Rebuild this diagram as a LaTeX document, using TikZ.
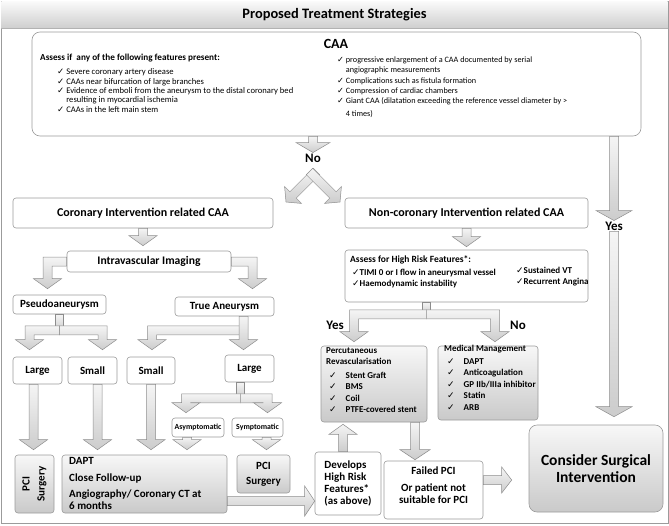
\documentclass[tikz,border=0pt]{standalone}
\usepackage{fontspec}
\setmainfont{Carlito}
\newfontfamily\checkfont{DejaVu Sans}
\usetikzlibrary{calc}
\definecolor{boxline}{RGB}{155,155,155}
\definecolor{arrowline}{RGB}{140,140,140}
\newcommand{\fsz}[2]{\fontsize{#1}{#2}\selectfont}
\newcommand{\ck}{{\checkfont\char"2713}}
\newcommand{\BAw}{4.5pt}   % half shaft width
\newcommand{\BAhw}{14pt}   % half head width
\newcommand{\BAhl}{10pt}   % head length
\tikzset{
  box/.style={draw=boxline, line width=0.6pt, rounded corners=3pt, fill=white, inner sep=1pt,
    align=center, font=\bfseries\fsz{11}{13}},
  dbox/.style={box, top color=gray!6, bottom color=gray!42},
  blockarrow/.style={draw=arrowline, line width=0.5pt, top color=gray!8, bottom color=gray!40},
  lbl/.style={inner sep=1pt, font=\bfseries\fsz{13}{15}},
  lst/.style={anchor=north west, inner sep=0pt, align=left, font=\fsz{8.6}{9.4}}
}
% straight block arrow: [half head width]{tail}{tip}
\newcommand{\BArrow}[3][\BAhw]{%
  \coordinate (ba-s) at #2;
  \coordinate (ba-e) at #3;
  \coordinate (ba-h) at ($(ba-e)!\BAhl!(ba-s)$);
  \path[blockarrow] ($(ba-s)!\BAw!90:(ba-e)$) -- ($(ba-h)!\BAw!90:(ba-e)$)
    -- ($(ba-h)!#1!90:(ba-e)$) -- (ba-e) -- ($(ba-h)!#1!-90:(ba-e)$)
    -- ($(ba-h)!\BAw!-90:(ba-e)$) -- ($(ba-s)!\BAw!-90:(ba-e)$) -- cycle;}
% elbow block arrow: sideways from tail, then down to tip
\newcommand{\EArrow}[3][\BAhw]{%
  \coordinate (ea-s) at #2;
  \coordinate (ea-e) at #3;
  \path[blockarrow] let \p1=(ea-s), \p2=(ea-e), \n1={ifthenelse(\x2>\x1,1,-1)} in
    (\x1,{\y1+\BAw}) -- ({\x2+\n1*\BAw},{\y1+\BAw}) -- ({\x2+\n1*\BAw},{\y2+\BAhl})
    -- ({\x2+\n1*#1},{\y2+\BAhl}) -- (\x2,\y2) -- ({\x2-\n1*#1},{\y2+\BAhl})
    -- ({\x2-\n1*\BAw},{\y2+\BAhl}) -- ({\x2-\n1*\BAw},{\y1-\BAw}) -- (\x1,{\y1-\BAw}) -- cycle;}

\begin{document}
\begin{tikzpicture}[x=1pt, y=-1pt]
  \useasboundingbox (0,0) rectangle (669,525);
  % frame and heading
  \draw[boxline, line width=0.8pt] (1,1) rectangle (668,523);
  \shade[top color=gray!4, bottom color=gray!38] (1.4,1.4) rectangle (667.6,28);
  \draw[gray!60, line width=0.8pt] (1,28) -- (668,28);
  \node[font=\bfseries\fsz{14.4}{16}] (title) at (334.5,15) {Proposed Treatment Strategies};

  % CAA features
  \node[box, minimum width=609pt, minimum height=104pt, rounded corners=8pt] (caa) at (336.5,84) {};
  \node[font=\bfseries\fsz{14}{16}] (caaT) at (336,44) {CAA};
  \node[anchor=west, inner sep=0pt, font=\bfseries\fsz{9.2}{10}] (caaQ) at (40,58.5) {Assess if\ \ any of the following features present:};
  \node[lst] (caaL) at (57,68.5) {\ck\ Severe coronary artery disease\\\ck\ CAAs near bifurcation of large branches\\
    \ck\ Evidence of emboli from the aneurysm to the distal coronary bed\\\hphantom{\ck\ }resulting in myocardial ischemia\\
    \ck\ CAAs in the left main stem};
  \node[lst, font=\fsz{8.2}{10.4}] (caaR) at (337,56.5) {\ck\ progressive enlargement of a CAA documented by serial\\\hphantom{\ck\ }angiographic measurements\\
    \ck\ Complications such as fistula formation\\\ck\ Compression of cardiac chambers\\
    \ck\ Giant CAA (dilatation exceeding the reference vessel diameter by >\\[2pt]\hphantom{\ck\ }4 times)};

  \node[lbl] (noL) at (313,158) {No};
  \node[lbl] (yesL) at (614,226) {Yes};
  \coordinate (apex) at (313,175);
  \coordinate (chevL) at (286,202);
  \coordinate (chevR) at (340,202);

  % second level
  \node[box, minimum width=260pt, minimum height=30pt, font=\bfseries\fsz{12}{14}] (coronary) at (143,213) {Coronary Intervention related CAA};
  \node[box, minimum width=243pt, minimum height=30pt, font=\bfseries\fsz{12}{14}] (noncor) at (466.5,213) {Non-coronary Intervention related CAA};

  % coronary intervention side
  \node[box, minimum width=164pt, minimum height=21pt, font=\bfseries\fsz{11.6}{13}] (intra) at (149,261.5) {Intravascular Imaging};
  \node[box, minimum width=93pt, minimum height=19pt] (pseudo) at (59.5,304.5) {Pseudoaneurysm};
  \node[box, minimum width=99pt, minimum height=19pt] (trueAn) at (224.5,306.5) {True Aneurysm};
  \node[box, minimum width=49pt, minimum height=27pt] (largeA) at (37.5,370.5) {Large};
  \node[box, minimum width=49pt, minimum height=27pt] (smallA) at (92.5,370.5) {Small};
  \node[box, minimum width=48pt, minimum height=27pt] (smallB) at (151,370.5) {Small};
  \node[box, minimum width=49pt, minimum height=27pt] (largeB) at (249.5,368.5) {Large};
  \node[box, minimum width=52pt, minimum height=19pt, font=\bfseries\fsz{7.8}{9}] (asym) at (198,427.5) {Asymptomatic};
  \node[box, minimum width=51pt, minimum height=19pt, font=\bfseries\fsz{7.8}{9}] (symp) at (257.5,427.5) {Symptomatic};
  \node[dbox, minimum width=39pt, minimum height=58pt] (pciA) at (34.5,484) {};
  \node[rotate=90, align=center, font=\bfseries\fsz{11}{15}] (pciAT) at (pciA) {PCI\\Surgery};
  \node[dbox, minimum width=165pt, minimum height=58pt] (dapt) at (144.5,484) {};
  \node[anchor=north west, align=left, inner sep=0pt, font=\bfseries\fsz{11}{12}] (daptT) at (69,457.5)
    {DAPT\\[4.5pt]Close Follow-up\\[4pt]Angiography/ Coronary CT at\\6 months};
  \node[dbox, minimum width=53pt, minimum height=38pt, font=\bfseries\fsz{11}{15}] (pciB) at (263.5,474) {PCI\\Surgery};
  \node[box, minimum width=66pt, minimum height=63pt, align=left, font=\bfseries\fsz{11}{11.7}] (develops) at (348,483.5)
    {Develops\\High Risk\\Features*\\(as above)};

  % non-coronary side
  \node[box, minimum width=243pt, minimum height=52pt] (assess) at (466.5,276) {};
  \node[anchor=north west, inner sep=0pt, font=\bfseries\fsz{9.5}{11}] (assessT) at (350,256) {Assess for High Risk Features*:};
  \node[lst, font=\bfseries\fsz{9}{10.5}] (assessL) at (352,269) {\ck TIMI 0 or I flow in aneurysmal vessel\\\ck Haemodynamic instability};
  \node[lst, font=\bfseries\fsz{9}{10.5}] (assessR) at (516,267) {\ck Sustained VT\\\ck Recurrent Angina};
  \node[lbl] (yesB) at (335,325) {Yes};
  \node[lbl] (noB) at (518,325) {No};
  \node[dbox, minimum width=106pt, minimum height=76pt] (perc) at (374,384) {};
  \node[lst, font=\bfseries\fsz{9}{11.5}] (percT) at (326,347) {Percutaneous\\Revascularisation\\[2pt]
    \hspace*{3pt}\ck\hspace{9pt}Stent Graft\\\hspace*{3pt}\ck\hspace{9pt}BMS\\\hspace*{3pt}\ck\hspace{9pt}Coil\\
    \hspace*{3pt}\ck\hspace{9pt}PTFE-covered stent};
  \node[dbox, minimum width=100pt, minimum height=74pt] (medic) at (488,383) {};
  \node[lst, font=\bfseries\fsz{9}{11.5}] (medicT) at (444,344.5) {Medical Management\\[1.5pt]
    \hspace*{3pt}\ck\hspace{9pt}DAPT\\\hspace*{3pt}\ck\hspace{9pt}Anticoagulation\\\hspace*{3pt}\ck\hspace{9pt}GP IIb/IIIa inhibitor\\
    \hspace*{3pt}\ck\hspace{9pt}Statin\\\hspace*{3pt}\ck\hspace{9pt}ARB};
  \node[box, minimum width=99pt, minimum height=58pt] (failed) at (433.5,490) {};
  \node[align=center, inner sep=0pt, font=\bfseries\fsz{11}{11.5}] (failedT) at (433.5,485) {Failed PCI\\[6pt]Or patient not\\suitable for PCI};
  \node[dbox, minimum width=134pt, minimum height=87pt, rounded corners=8pt, font=\bfseries\fsz{15.5}{17}] (surgical) at (596,468.5)
    {Consider Surgical\\Intervention};

  % arrows from CAA
  \BArrow[17pt]{(caa.south -| noL)}{(noL.north)}
  \BArrow[12pt]{($(apex)!-5pt!(chevL)$)}{(chevL)}
  \BArrow[12pt]{($(apex)!-5pt!(chevR)$)}{(chevR)}
  \BArrow[18pt]{(caa.south -| yesL)}{(yesL.north)}
  \BArrow[18pt]{(yesL.south)}{($(yesL.south |- surgical.north)+(0,-8)$)}

  % coronary intervention branch
  \BArrow{(coronary.south)}{($(coronary.south |- intra.north)+(0,-5)$)}
  \EArrow{(intra.west)}{($(pseudo.north)+(-12,-6)$)}
  \EArrow{(intra.east)}{($(trueAn.north)+(28,-8)$)}
  \coordinate (pj) at ($(pseudo.south)+(0,16)$);
  \path[blockarrow] ($(pseudo.south)+(-4,0)$) rectangle ($(pj)+(4,0)$);
  \EArrow{(pj)}{($(largeA.north)+(-8,-7)$)}
  \EArrow{(pj)}{($(smallA.north)+(10,-7)$)}
  \coordinate (tj) at ($(trueAn.south)+(19,14)$);
  \EArrow{(tj)}{($(smallB.north)+(1,-7)$)}
  \BArrow{($(trueAn.south)+(19,0)$)}{($(tj |- largeB.north)+(0,-5)$)}
  \coordinate (lj) at ($(largeB.south)+(-9,16)$);
  \path[blockarrow] ($(largeB.south)+(-13,0)$) rectangle ($(lj)+(4,0)$);
  \EArrow{(lj)}{($(asym.north)+(-12,-5)$)}
  \EArrow{(lj)}{($(symp.north)+(10,-5)$)}
  \BArrow{($(largeA.south)+(-4,0)$)}{($(largeA.south |- pciA.north)+(-4,-5)$)}
  \BArrow{($(smallA.south)+(5,0)$)}{($(smallA.south |- dapt.north)+(5,-5)$)}
  \BArrow{(smallB.south)}{($(smallB.south |- dapt.north)+(0,-5)$)}
  \BArrow{($(asym.south)+(-11,0)$)}{($(asym.south |- dapt.north)+(-11,-5)$)}
  \BArrow{($(symp.south)+(9,0)$)}{($(symp.south |- pciB.north)+(9,-5)$)}
  \coordinate (dh) at ($(dapt.east)+(0,17)$);
  \BArrow[15pt]{(dh)}{(dh -| develops.west)}

  % non-coronary branch
  \BArrow{(noncor.south)}{($(noncor.south |- assess.north)+(0,-3)$)}
  \coordinate (aj) at ($(assess.south)+(-40,12)$);
  \path[blockarrow] ($(assess.south)+(-44,0)$) rectangle ($(aj)+(4,0)$);
  \EArrow{(aj)}{($(perc.north)+(-20,-4)$)}
  \EArrow{(aj)}{($(medic.north)+(7,-4)$)}
  \BArrow{($(develops.north)+(-5,0)$)}{($(develops.north |- perc.south)+(-5,2)$)}
  \BArrow[15pt]{($(perc.south)+(41,0)$)}{($(perc.south |- failed.north)+(41,-1)$)}
  \coordinate (fh) at ($(failed.east)+(0,-10)$);
  \BArrow[13pt]{(fh)}{($(fh -| surgical.west)+(-17,0)$)}
\end{tikzpicture}
\end{document}
